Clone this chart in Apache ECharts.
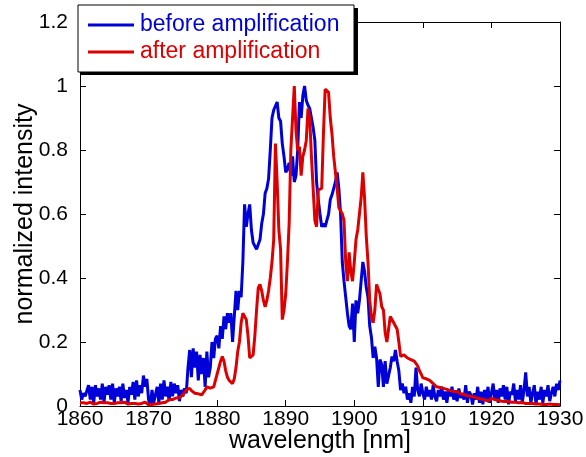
<!DOCTYPE html>
<html>
<head>
<meta charset="utf-8">
<script src="https://cdn.jsdelivr.net/npm/echarts@6/dist/echarts.min.js"></script>
<style>
html,body{margin:0;padding:0;background:#fff;}
#chart{width:586px;height:457px;}
</style>
</head>
<body>
<div id="chart"></div>
<script>
// wavelength grid (nm): start and spacing of the sampled spectra
const wlStart = 1860;
const wlStep = 0.25;

const xTicks = [1860, 1870, 1880, 1890, 1900, 1910, 1920, 1930];
const yTicks = [0, 0.2, 0.4, 0.6, 0.8, 1, 1.2];

const seriesNames = ['before amplification', 'after amplification'];

// normalized intensity before amplification, one row per nm (4 samples)
const beforeAmp = [
  0.05, 0.02, 0.04, 0.03,
  0.03, 0.065, 0.02, 0.06,
  0.01, 0.065, 0.03, 0.055,
  0.02, 0.07, 0.01, 0.06,
  0.035, 0.065, 0.02, 0.07,
  0.01, 0.055, 0.03, 0.06,
  0.015, 0.07, 0.025, 0.05,
  0.01, 0.06, 0.035, 0.075,
  0.02, 0.08, 0.03, 0.065,
  0.04, 0.095, 0.06, 0.085,
  0.02, 0.0, 0.05, 0.01,
  0.035, 0.06, 0.01, 0.07,
  0.02, 0.08, 0.03, 0.06,
  0.015, 0.075, 0.03, 0.07,
  0.04, 0.065, 0.015, 0.05,
  0.03, 0.055, 0.04, 0.12,
  0.175, 0.09, 0.18, 0.12,
  0.17, 0.08, 0.16, 0.1,
  0.15, 0.06, 0.17, 0.09,
  0.12, 0.2, 0.15, 0.21,
  0.22, 0.18, 0.25, 0.21,
  0.28, 0.24, 0.29, 0.26,
  0.29, 0.2, 0.28, 0.36,
  0.3, 0.36, 0.34, 0.45,
  0.63, 0.56, 0.6, 0.63,
  0.55, 0.51, 0.5, 0.49,
  0.49, 0.52, 0.57, 0.6,
  0.665, 0.68, 0.71, 0.8,
  0.9, 0.925, 0.93, 0.95,
  0.9, 0.89, 0.82, 0.78,
  0.73, 0.74, 0.76, 0.72,
  0.78, 0.7, 0.72, 0.8,
  0.95, 0.9, 0.97, 1.0,
  0.955, 0.94, 0.93, 0.9,
  0.87, 0.83, 0.7, 0.645,
  0.6, 0.56, 0.57, 0.56,
  0.56, 0.6, 0.645, 0.66,
  0.68, 0.7, 0.73, 0.68,
  0.6, 0.45, 0.39, 0.34,
  0.29, 0.25, 0.24, 0.32,
  0.2, 0.33, 0.29, 0.33,
  0.39, 0.45, 0.42, 0.37,
  0.34, 0.25, 0.215, 0.15,
  0.185, 0.15, 0.06, 0.145,
  0.13, 0.06, 0.14, 0.07,
  0.065, 0.12, 0.155, 0.14,
  0.175, 0.14, 0.11, 0.05,
  0.07, 0.04, 0.06, 0.02,
  0.04, 0.01, 0.06, 0.03,
  0.12, 0.05, 0.03, 0.07,
  0.04, 0.02, 0.06, 0.03,
  0.05, 0.02, 0.065, 0.03,
  0.015, 0.05, 0.03, 0.06,
  0.02, 0.045, 0.01, 0.05,
  0.03, 0.06, 0.02, 0.04,
  0.015, 0.055, 0.025, 0.04,
  0.02, 0.065, 0.01, 0.045,
  0.035, 0.005, 0.04, 0.02,
  0.06, 0.01, 0.045, 0.005,
  0.05, 0.02, 0.06, 0.01,
  0.04, 0.07, 0.02, 0.05,
  0.01, 0.055, 0.03, 0.065,
  0.02, 0.06, 0.005, 0.045,
  0.035, 0.07, 0.015, 0.05,
  0.02, 0.065, 0.01, 0.05,
  0.105, 0.03, 0.06, 0.01,
  0.04, 0.065, 0.005, 0.045,
  0.02, 0.06, 0.01, 0.05,
  0.03, 0.065, 0.015, 0.04,
  0.06, 0.03, 0.07, 0.05,
  0.08
];

// normalized intensity after amplification, one row per nm (4 samples)
const afterAmp = [
  0.01, 0.008, 0.01, 0.006,
  0.008, 0.01, 0.012, 0.008,
  0.006, 0.01, 0.008, 0.01,
  0.012, 0.008, 0.01, 0.006,
  0.01, 0.012, 0.008, 0.01,
  0.008, 0.006, 0.01, 0.008,
  0.01, 0.008, 0.012, 0.008,
  0.006, 0.01, 0.008, 0.006,
  0.008, 0.01, 0.006, 0.01,
  0.008, 0.01, 0.012, 0.008,
  0.004, 0.002, 0.005, 0.004,
  0.006, 0.01, 0.008, 0.012,
  0.01, 0.014, 0.012, 0.016,
  0.02, 0.018, 0.02, 0.022,
  0.025, 0.024, 0.026, 0.03,
  0.035, 0.04, 0.05, 0.052,
  0.055, 0.048, 0.045, 0.04,
  0.04, 0.038, 0.035, 0.035,
  0.036, 0.05, 0.06, 0.058,
  0.056, 0.055, 0.06, 0.08,
  0.1, 0.12, 0.14, 0.155,
  0.14, 0.11, 0.09, 0.08,
  0.075, 0.07, 0.085, 0.12,
  0.17, 0.2, 0.26, 0.29,
  0.28, 0.27, 0.22, 0.15,
  0.15, 0.16, 0.22, 0.3,
  0.37, 0.38, 0.36, 0.33,
  0.31, 0.33, 0.36, 0.4,
  0.45, 0.52, 0.82, 0.7,
  0.55, 0.49, 0.27, 0.3,
  0.35, 0.45, 0.57, 0.8,
  0.9, 1.0, 0.86, 0.8,
  0.81, 0.72, 0.78, 0.8,
  0.83, 0.93, 0.9, 0.78,
  0.78, 0.58, 0.56, 0.675,
  0.675, 0.68, 0.85, 0.99,
  0.99, 0.98, 0.9, 0.85,
  0.78, 0.73, 0.68, 0.62,
  0.62, 0.6, 0.58, 0.45,
  0.39, 0.48, 0.42, 0.39,
  0.45, 0.52, 0.55, 0.6,
  0.65, 0.73, 0.65, 0.53,
  0.45, 0.33, 0.28, 0.26,
  0.3, 0.38, 0.38, 0.35,
  0.31, 0.3, 0.23, 0.2,
  0.24, 0.28, 0.28, 0.26,
  0.25, 0.24, 0.2, 0.155,
  0.155, 0.16, 0.155, 0.15,
  0.15, 0.145, 0.145, 0.14,
  0.135, 0.125, 0.11, 0.1,
  0.088, 0.085, 0.085, 0.082,
  0.08, 0.078, 0.07, 0.065,
  0.06, 0.062, 0.058, 0.056,
  0.055, 0.05, 0.052, 0.048,
  0.048, 0.046, 0.045, 0.044,
  0.045, 0.04, 0.038, 0.036,
  0.036, 0.034, 0.032, 0.032,
  0.03, 0.03, 0.028, 0.026,
  0.024, 0.022, 0.022, 0.02,
  0.02, 0.018, 0.015, 0.02,
  0.024, 0.022, 0.02, 0.018,
  0.018, 0.016, 0.015, 0.016,
  0.014, 0.013, 0.014, 0.012,
  0.012, 0.014, 0.012, 0.011,
  0.01, 0.01, 0.011, 0.009,
  0.008, 0.009, 0.008, 0.007,
  0.008, 0.007, 0.006, 0.007,
  0.006, 0.006, 0.005, 0.006,
  0.005, 0.005, 0.006, 0.004,
  0.005, 0.004, 0.005, 0.004,
  0.004
];

const BLUE = '#0000d8';
const RED = '#dd0000';
const FONT = '"Liberation Sans", Arial, Helvetica, sans-serif';

function toPairs(vals) {
  return vals.map((v, i) => [wlStart + i * wlStep, v]);
}

const chart = echarts.init(document.getElementById('chart'), null, {renderer: 'canvas'});

const axisCommon = {
  axisLine: {show: true, onZero: false, lineStyle: {color: '#000', width: 1}},
  axisTick: {show: true, inside: true, length: 6, lineStyle: {color: '#000', width: 1}},
  splitLine: {show: false}
};

const option = {
  animation: false,
  backgroundColor: '#fff',
  grid: {left: 80, right: 26, top: 22, bottom: 51, containLabel: false, outerBoundsMode: 'none'},
  xAxis: [
    Object.assign({
      type: 'value', min: xTicks[0], max: xTicks[xTicks.length - 1], interval: 10,
      position: 'bottom',
      name: 'wavelength [nm]', nameLocation: 'middle', nameGap: 23, nameMoveOverlap: false,
      nameTextStyle: {fontFamily: FONT, fontSize: 25, color: '#000'},
      axisLabel: {fontFamily: FONT, fontSize: 21, color: '#000', margin: 3,
        showMinLabel: true, showMaxLabel: true, formatter: v => String(v)}
    }, axisCommon),
    Object.assign({
      type: 'value', min: xTicks[0], max: xTicks[xTicks.length - 1], interval: 10,
      position: 'top', axisLabel: {show: false}
    }, axisCommon)
  ],
  yAxis: [
    Object.assign({
      type: 'value', min: yTicks[0], max: yTicks[yTicks.length - 1], interval: 0.2,
      position: 'left',
      name: 'normalized intensity', nameLocation: 'middle', nameGap: 42, nameMoveOverlap: false,
      nameTextStyle: {fontFamily: FONT, fontSize: 25, color: '#000'},
      axisLabel: {fontFamily: FONT, fontSize: 21, color: '#000', margin: 12}
    }, axisCommon),
    Object.assign({
      type: 'value', min: yTicks[0], max: yTicks[yTicks.length - 1], interval: 0.2,
      position: 'right', axisLabel: {show: false}
    }, axisCommon)
  ],
  legend: [
    {
      data: [{name: seriesNames[0], textStyle: {color: BLUE}}],
      left: 88, top: 12, padding: 0, z: 120,
      icon: 'rect', itemWidth: 46, itemHeight: 3, itemGap: 0,
      textStyle: {fontFamily: FONT, fontSize: 23, lineHeight: 26, padding: [0, 0, 0, 1]},
      selectedMode: false
    },
    {
      data: [{name: seriesNames[1], textStyle: {color: RED}}],
      left: 88, top: 39, padding: 0, z: 120,
      icon: 'rect', itemWidth: 46, itemHeight: 3, itemGap: 0,
      textStyle: {fontFamily: FONT, fontSize: 23, lineHeight: 26, padding: [0, 0, 0, 1]},
      selectedMode: false
    }
  ],
  graphic: [
    {type: 'rect', z: 100, shape: {x: 81, y: 8, width: 277, height: 67}, style: {fill: '#000'}},
    {type: 'rect', z: 101, shape: {x: 78, y: 5, width: 276, height: 67}, style: {fill: '#fff', stroke: '#000', lineWidth: 1}}
  ],
  series: [
    {
      name: seriesNames[0], type: 'line', xAxisIndex: 0, yAxisIndex: 0,
      data: toPairs(beforeAmp), showSymbol: false, symbol: 'none',
      lineStyle: {color: BLUE, width: 3}, itemStyle: {color: BLUE}, z: 3
    },
    {
      name: seriesNames[1], type: 'line', xAxisIndex: 0, yAxisIndex: 0,
      data: toPairs(afterAmp), showSymbol: false, symbol: 'none',
      lineStyle: {color: RED, width: 3}, itemStyle: {color: RED}, z: 4
    }
  ]
};

chart.setOption(option);
</script>
</body>
</html>
